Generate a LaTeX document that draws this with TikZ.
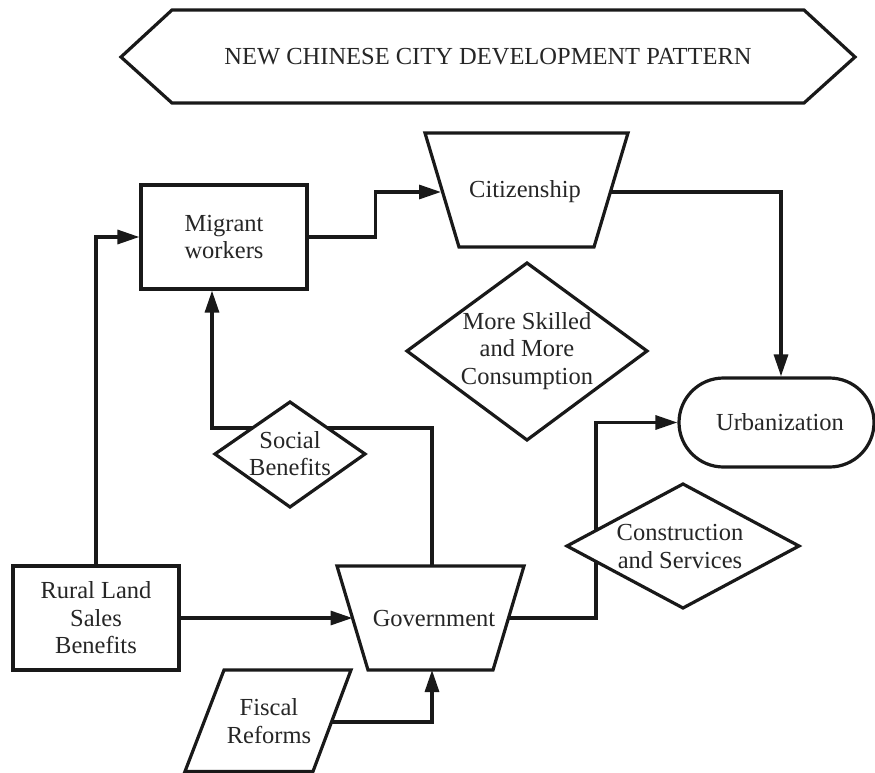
\documentclass[tikz,border=0pt]{standalone}
\usepackage{fontspec}
\setmainfont{Liberation Serif}
\usetikzlibrary{arrows.meta}
\begin{document}
\begin{tikzpicture}[x=1pt,y=-1pt,
  line width=3.2pt,
  shp/.style={draw=black!90, line width=3.2pt, fill=white, line join=miter},
  boxnode/.style={draw=black!90, line width=3.2pt, fill=white, rectangle, inner sep=0pt, align=center,
     font=\fontsize{24.5}{27.5}\selectfont, text=black!85},
  txt/.style={align=center, inner sep=0pt, font=\fontsize{24.5}{27.5}\selectfont, text=black!85},
  conn/.style={draw=black!90, line width=3.2pt, line join=miter, -{Triangle[length=22pt,width=14pt]}}
]
\useasboundingbox (0,0) rectangle (875,773);
\fill[white] (0,0) rectangle (875,773);

% title banner
\draw[shp] (121,57) -- (172,10) -- (804,10) -- (855,57) -- (804,103) -- (172,103) -- cycle;
\node[txt] (title) at (488,57) {NEW CHINESE CITY DEVELOPMENT PATTERN};

% rectangle-like nodes
\node[boxnode, minimum width=166pt, minimum height=104pt] (mig) at (224,237) {Migrant\\workers};
\node[boxnode, minimum width=166pt, minimum height=104pt] (rur) at (96,618) {Rural Land\\Sales\\Benefits};
\node[boxnode, rounded corners=44.5pt, minimum width=195pt, minimum height=89pt] (urb) at (776.5,422.5) {\hspace*{7pt}Urbanization};

% coordinates on polygon borders
\coordinate (citW) at (441,192);
\coordinate (citE) at (610.4,192);
\coordinate (govN) at (432,566);
\coordinate (govS) at (432,670);
\coordinate (govW) at (352.5,618);
\coordinate (govE) at (508.5,618);
\coordinate (fisE) at (331.5,722);

% connectors
\draw[conn] (rur.north) |- (mig.west);
\draw[conn] (mig.east) -- ++(67,0) |- (citW);
\draw[conn] (citE) -| ([xshift=4.5pt]urb.north);
\draw[conn] (govN) -- ++(0,-138) -| ([xshift=-12pt]mig.south);
\draw[conn] (rur.east) -- (govW);
\draw[conn] (fisE) -| (govS);
\draw[conn] (govE) -- ++(87.5,0) |- (urb.west);

% citizenship
\draw[shp] (425,133) -- (628,133) -- (594,247) -- (459,247) -- cycle;
\node[txt] (cit) at (525,192) {Citizenship};

% more skilled diamond
\draw[shp] (407,351) -- (527,263) -- (647,351) -- (527,440) -- cycle;
\node[txt] (skill) at (527,351) {More Skilled\\and More\\Consumption};

% social benefits diamond
\draw[shp] (215,454) -- (290,402) -- (365,454) -- (290,507) -- cycle;
\node[txt] (soc) at (290,453.5) {Social\\Benefits};

% construction diamond
\draw[shp] (567,546) -- (683,484) -- (799,546) -- (683,608) -- cycle;
\node[txt] (cons) at (680,546.5) {Construction\\and Services};

% government
\draw[shp] (337,566) -- (524,566) -- (493,670) -- (368,670) -- cycle;
\node[txt] (gov) at (434,619) {Government};

% fiscal reforms
\draw[shp] (224,670) -- (351,670) -- (313,771.4) -- (185,771.4) -- cycle;
\node[txt] (fis) at (269,721) {Fiscal\\Reforms};
\end{tikzpicture}
\end{document}
